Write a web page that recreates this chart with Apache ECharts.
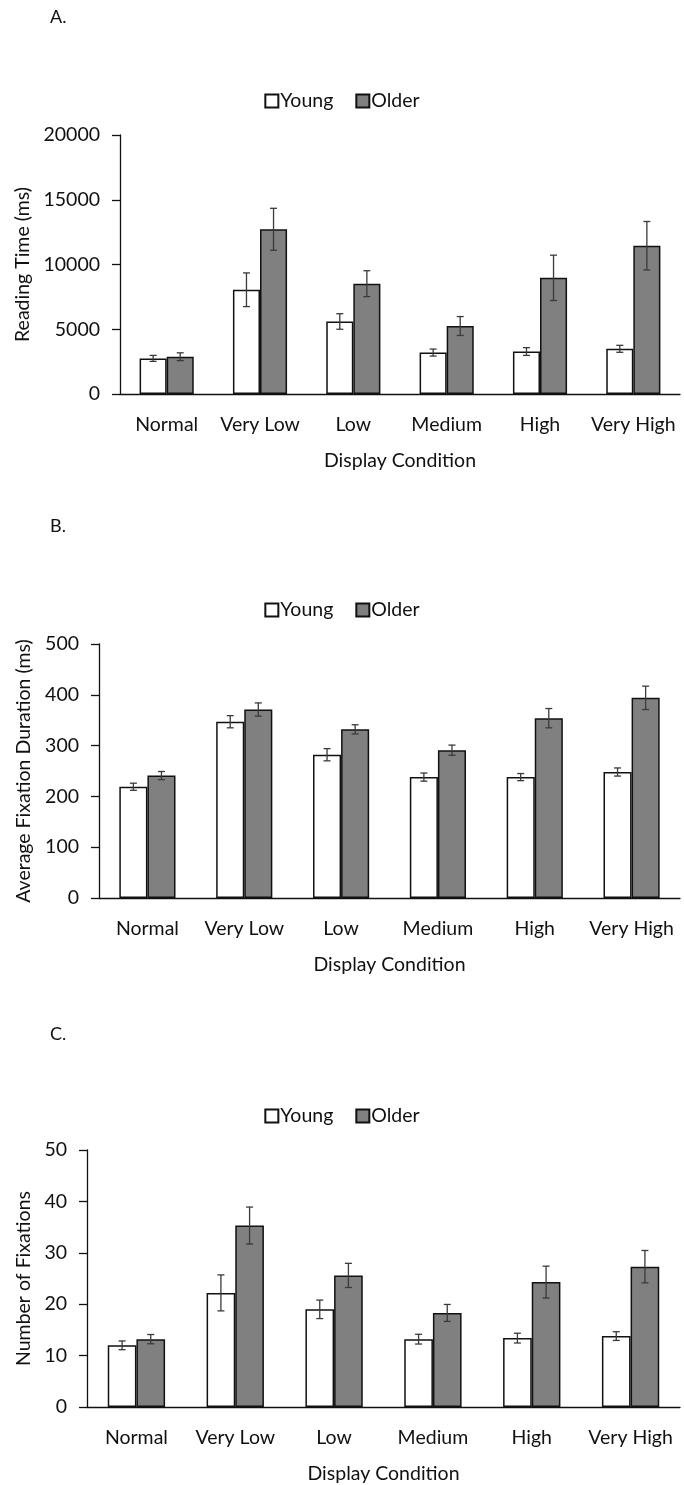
<!DOCTYPE html>
<html>
<head>
<meta charset="utf-8">
<script src="https://cdn.jsdelivr.net/npm/echarts@6/dist/echarts.min.js"></script>
<style>
html,body{margin:0;padding:0;background:#fff;}
#chart{width:684px;height:1485px;}
</style>
</head>
<body>
<div id="chart"></div>
<script>
const categories = ['Normal', 'Very Low', 'Low', 'Medium', 'High', 'Very High'];
const seriesNames = ['Young', 'Older'];

// A. Reading time (ms)
const readingYoung    = [2750, 8050, 5600, 3200, 3280, 3490];
const readingYoungErr = [230, 1300, 600, 270, 300, 270];
const readingOlder    = [2880, 12720, 8520, 5250, 8970, 11450];
const readingOlderErr = [300, 1620, 1000, 730, 1750, 1870];

// B. Average fixation duration (ms)
const durYoung    = [219, 347, 282, 238, 238, 248];
const durYoungErr = [7, 12, 12, 8, 7, 8];
const durOlder    = [241, 371, 332, 291, 354, 394];
const durOlderErr = [8, 13, 9, 10, 19, 23];

// C. Number of fixations
const numYoung    = [12.0, 22.2, 19.0, 13.2, 13.4, 13.8];
const numYoungErr = [0.85, 3.5, 1.8, 0.95, 0.95, 0.85];
const numOlder    = [13.2, 35.3, 25.6, 18.3, 24.3, 27.3];
const numOlderErr = [0.9, 3.6, 2.35, 1.65, 3.1, 3.15];

const yTicksA = {min: 0, max: 20000, interval: 5000};
const yTicksB = {min: 0, max: 500, interval: 100};
const yTicksC = {min: 0, max: 50, interval: 10};

const FONT = 'Lato';
const FS = 19.5;
const TXT = '#111';
const GAP = 0.42;

const chart = echarts.init(document.getElementById('chart'), null, {renderer: 'canvas'});

const panels = [
  {label: 'A.', labelY: 18, legendTop: 86, grid: {left: 120, top: 135, right: 4, height: 259}, yName: 'Reading Time (ms)', yNameGap: 84, y: yTicksA,
   young: readingYoung, youngErr: readingYoungErr, older: readingOlder, olderErr: readingOlderErr},
  {label: 'B.', labelY: 527, legendTop: 595, grid: {left: 99, top: 644, right: 4, height: 254}, yName: 'Average Fixation Duration (ms)', yNameGap: 63, y: yTicksB,
   young: durYoung, youngErr: durYoungErr, older: durOlder, olderErr: durOlderErr},
  {label: 'C.', labelY: 1035, legendTop: 1101, grid: {left: 87, top: 1150, right: 4, height: 259}, yName: 'Number of Fixations', yNameGap: 51, y: yTicksC,
   young: numYoung, youngErr: numYoungErr, older: numOlder, olderErr: numOlderErr}
];

function errRender(side) {
  return function (params, api) {
    const ci = api.value(0), v = api.value(1), e = api.value(2);
    const band = api.size([1, 0])[0];
    const off = side * band * (1 - GAP) / 4;
    const c = api.coord([ci, v]);
    const x = c[0] + off;
    const yt = api.coord([ci, v + e])[1];
    const yb = api.coord([ci, v - e])[1];
    const cap = 3.5;
    const st = {stroke: '#3a3a3a', lineWidth: 1.3};
    return {type: 'group', children: [
      {type: 'line', shape: {x1: x, y1: yt, x2: x, y2: yb}, style: st},
      {type: 'line', shape: {x1: x - cap, y1: yt, x2: x + cap, y2: yt}, style: st},
      {type: 'line', shape: {x1: x - cap, y1: yb, x2: x + cap, y2: yb}, style: st}
    ]};
  };
}

const option = {
  animation: false,
  backgroundColor: '#fff',
  textStyle: {fontFamily: FONT, color: TXT},
  graphic: panels.map(p => ({type: 'text', left: 50, top: p.labelY - 10, style: {text: p.label, font: '18px ' + FONT, fill: TXT}})),
  legend: panels.map(p => ({
    data: seriesNames, top: p.legendTop, left: 'center', itemWidth: 13, itemHeight: 13, itemGap: 22,
    icon: 'rect', textStyle: {fontFamily: FONT, fontSize: FS, color: TXT, padding: [0, 0, 0, -3]}, selectedMode: false
  })),
  grid: panels.map(p => p.grid),
  xAxis: panels.map((p, i) => ({
    type: 'category', gridIndex: i, data: categories,
    name: 'Display Condition', nameLocation: 'middle', nameGap: 57,
    nameTextStyle: {fontFamily: FONT, fontSize: FS, color: TXT},
    axisLine: {lineStyle: {color: '#111', width: 1.3}},
    axisTick: {alignWithLabel: true, length: 6, lineStyle: {color: '#111', width: 1.3}},
    axisLabel: {fontFamily: FONT, fontSize: FS, color: TXT, margin: 21, interval: 0}
  })),
  yAxis: panels.map((p, i) => ({
    type: 'value', gridIndex: i, min: p.y.min, max: p.y.max, interval: p.y.interval,
    name: p.yName, nameLocation: 'middle', nameGap: p.yNameGap, nameRotate: 90,
    nameTextStyle: {fontFamily: FONT, fontSize: FS, color: TXT},
    splitLine: {show: false},
    axisLine: {show: true, lineStyle: {color: '#111', width: 1.3}},
    axisTick: {show: true, length: 8, lineStyle: {color: '#111', width: 1.3}},
    axisLabel: {fontFamily: FONT, fontSize: FS, color: TXT, margin: 20, formatter: v => String(v)}
  })),
  series: []
};

panels.forEach((p, i) => {
  option.series.push({
    name: 'Young', type: 'bar', xAxisIndex: i, yAxisIndex: i, data: p.young,
    barGap: '0%', barCategoryGap: (GAP * 100) + '%',
    itemStyle: {color: '#ffffff', borderColor: '#111', borderWidth: 1.5}
  });
  option.series.push({
    name: 'Older', type: 'bar', xAxisIndex: i, yAxisIndex: i, data: p.older,
    barGap: '0%', barCategoryGap: (GAP * 100) + '%',
    itemStyle: {color: '#808080', borderColor: '#111', borderWidth: 1.5}
  });
  option.series.push({
    name: 'errY' + i, type: 'custom', xAxisIndex: i, yAxisIndex: i, z: 5,
    renderItem: errRender(-1), encode: {x: 0, y: 1},
    data: categories.map((c, k) => [k, p.young[k], p.youngErr[k]])
  });
  option.series.push({
    name: 'errO' + i, type: 'custom', xAxisIndex: i, yAxisIndex: i, z: 5,
    renderItem: errRender(1), encode: {x: 0, y: 1},
    data: categories.map((c, k) => [k, p.older[k], p.olderErr[k]])
  });
});

chart.setOption(option);
</script>
</body>
</html>
